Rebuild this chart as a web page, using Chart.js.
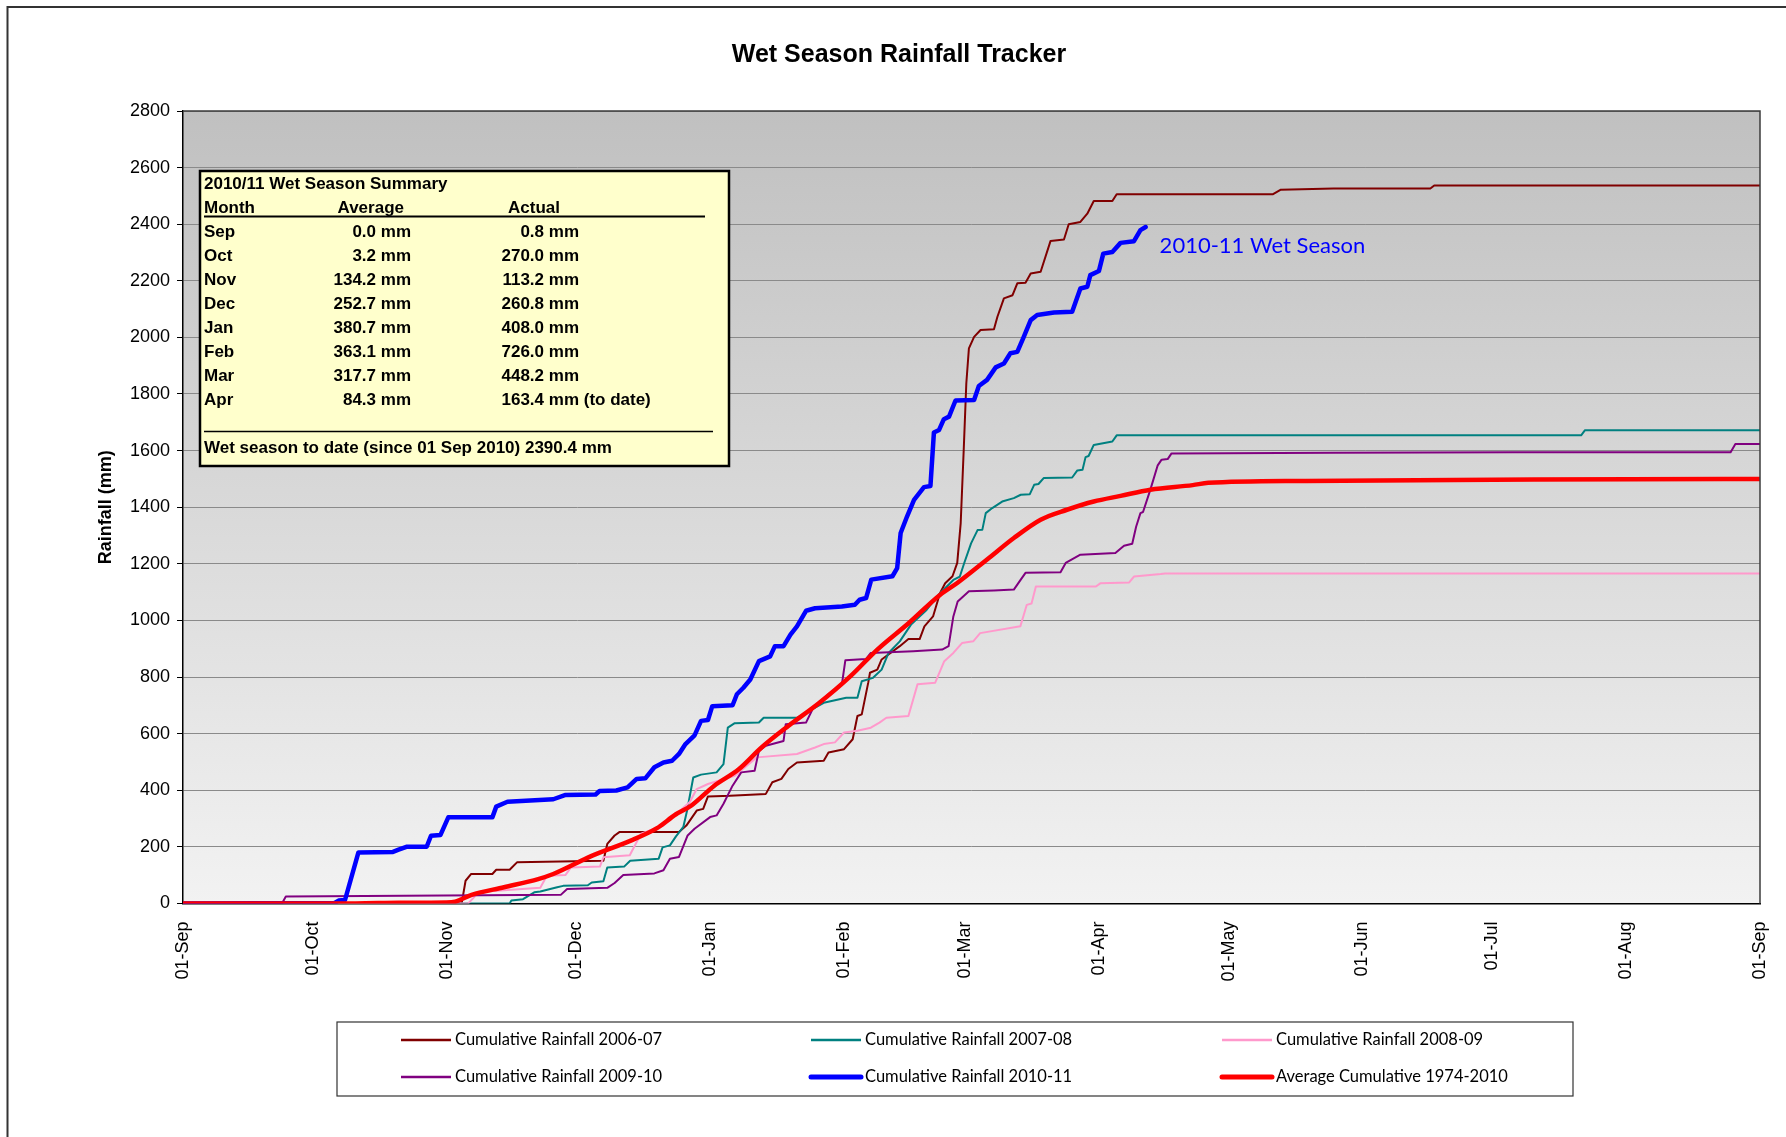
<!DOCTYPE html>
<html>
<head>
<meta charset="utf-8">
<title>Wet Season Rainfall Tracker</title>
<script src="https://cdn.jsdelivr.net/npm/chart.js"></script>
<style>
  html, body { margin: 0; padding: 0; background: #fff; }
  canvas { display: block; }
</style>
</head>
<body>
<canvas id="rainChart" width="1786" height="1137"></canvas>
<script>
// x axis: days since 01 Sep
const monthTickDays = [0, 30, 61, 91, 122, 153, 181, 212, 242, 273, 303, 334, 365];
const monthTickLabels = ["01-Sep", "01-Oct", "01-Nov", "01-Dec", "01-Jan", "01-Feb", "01-Mar",
    "01-Apr", "01-May", "01-Jun", "01-Jul", "01-Aug", "01-Sep"];

const days0607 = [0, 64.5, 65.4, 66.7, 71.6, 72.5, 75.6, 77.3, 97.3, 98.2, 99.9, 101, 114.8, 116.5, 118.9, 120.4,
    121.5, 126.6, 134.9, 136.4, 138.5, 140.1, 142.1, 148.3, 149.4, 153, 155, 156.1, 157.1, 158.6, 159, 160.7,
    161.7, 165.9, 167.9, 170.5, 171.6, 173.6, 175.2, 176.4, 178.1, 179.2, 180, 180.7, 181.3, 181.9, 183.1, 184.6,
    187.7, 188.5, 190, 192, 193.1, 195, 196.2, 198.5, 200.8, 203.9, 205, 207.7, 209.3, 210.8, 215.1, 216.1,
    252.3, 254.1, 266.3, 288.7, 289.6, 365];
const rain0607 = [0, 0, 80, 104, 104, 119, 119, 145, 151, 210, 240, 252, 252, 275, 328, 334,
    378, 380, 387, 428, 440, 475, 498, 504, 533, 545, 580, 662, 668, 780, 815, 826,
    862, 909, 934, 934, 979, 1014, 1096, 1131, 1156, 1203, 1344, 1603, 1838, 1961, 2002, 2026,
    2029, 2073, 2138, 2149, 2191, 2193, 2226, 2232, 2341, 2346, 2400, 2408, 2437, 2482, 2482, 2506,
    2506, 2522, 2526, 2526, 2537, 2537];

const days0708 = [0, 75.6, 76, 78.7, 81.3, 82.7, 86.6, 88, 93.7, 94.6, 97.3, 98.2, 102.1, 103.5, 110.1, 111,
    112.7, 114.1, 115.8, 116.7, 118.1, 119.9, 123.5, 125.1, 126.1, 127.7, 133.3, 134.4, 142.1, 148.3, 153.5,
    156.1, 157.1, 159.7, 161.7, 163.3, 165.9, 168.5, 172.1, 175.2, 178.3, 179.8, 180.8, 182.4, 183.9, 185,
    185.8, 187.3, 189.6, 192.3, 193.9, 196, 197, 198, 199.2, 205.8, 207, 208.2, 208.9, 209.6, 210.8, 215.1,
    216.1, 323.6, 324.5, 365];
const rain0708 = [0, 0, 10, 15, 39, 42, 57, 62, 64, 74, 78, 127, 130, 151, 158, 198,
    205, 237, 270, 330, 445, 455, 463, 492, 621, 637, 639, 656, 656, 709, 727,
    727, 785, 797, 826, 885, 926, 985, 1037, 1096, 1143, 1155, 1202, 1272, 1319, 1320,
    1379, 1397, 1420, 1432, 1444, 1446, 1479, 1482, 1503, 1505, 1530, 1532, 1577, 1581, 1620, 1632,
    1654, 1654, 1672, 1672];

const days0809 = [0, 66, 68.5, 82.7, 84.2, 88.5, 89.8, 96.5, 97.3, 103.4, 106, 111.2, 117.3, 118.9, 121.5,
    127.7, 132.8, 142.1, 146.3, 148.3, 150.9, 153, 156.1, 159.2, 161.2, 162.8, 167.9, 170, 174.1, 176.2,
    178.3, 180.3, 182.9, 184.5, 193.8, 195.3, 196.4, 197.4, 211.3, 212.3, 219, 220.1, 226.3, 227.3, 365];
const rain0809 = [0, 0, 40, 55, 98, 100, 127, 130, 163, 170, 246, 275, 358, 404, 422,
    451, 516, 528, 551, 563, 569, 604, 610, 621, 639, 656, 662, 774, 780, 856,
    885, 920, 926, 955, 979, 1055, 1060, 1120, 1120, 1131, 1134, 1155, 1164, 1166, 1166];

const days0910 = [0, 22.9, 23.8, 87.5, 88.9, 98.2, 99.9, 101.9, 109.1, 111.2, 112.7, 114.8, 116.8, 118.4, 122,
    123.5, 125.1, 127.2, 129.2, 132.3, 133.3, 134.9, 139, 139.5, 144.2, 145.7, 149.4, 152.5, 153.3, 158.1,
    159.2, 169, 175.7, 177.2, 178.3, 179.3, 181.4, 181.9, 187.7, 192.3, 193.9, 195, 203.1, 204.3, 207.7,
    215.8, 217.8, 219.7, 220.6, 221.6, 222.2, 223.9, 225.6, 226.5, 227.9, 228.8, 266.3, 307.8, 358.2, 359.3, 365];
const rain0910 = [0, 0, 24, 31, 51, 55, 72, 100, 106, 117, 158, 164, 240, 264, 305,
    311, 352, 416, 463, 469, 539, 557, 574, 633, 639, 686, 739, 774, 859, 864,
    885, 891, 897, 909, 1014, 1067, 1096, 1103, 1106, 1109, 1144, 1168, 1170, 1203, 1232,
    1238, 1264, 1271, 1331, 1379, 1383, 1462, 1548, 1568, 1570, 1590, 1592, 1594, 1594, 1623, 1623];

const days1011 = [0, 35, 36, 37.5, 40.6, 48.6, 49.9, 51.7, 56.4, 57.4, 59.6, 61.4, 71.6, 72.5, 75.1, 85.7,
    88.4, 95.5, 96.4, 100.3, 102.9, 105, 107, 109.1, 111.2, 113.2, 114.8, 116.3, 118.4, 119.9, 121.5, 122.5,
    127.2, 128.2, 129.7, 131.3, 133.3, 135.9, 137, 139, 140.6, 142.1, 144.2, 146.3, 152.5, 155.5, 156.6,
    158.1, 159.3, 164.2, 165.3, 166.1, 167.6, 169.2, 171.5, 173, 173.8, 175, 176.1, 177.3, 178.8, 183.1,
    184.2, 186.1, 188.1, 190, 191.5, 193.1, 194.6, 196.2, 197.7, 201.6, 205.8, 207.7, 209.3, 210, 212, 213,
    215.1, 217, 220.1, 221.6, 222.8];
const rain1011 = [0, 1, 10, 12, 180, 182, 190, 200, 200, 239, 242, 304, 304, 342, 359, 368,
    383, 385, 397, 399, 410, 440, 442, 481, 498, 504, 528, 563, 594, 645, 648, 697,
    700, 739, 762, 791, 856, 873, 909, 909, 950, 979, 1034, 1043, 1049, 1055, 1073,
    1079, 1144, 1156, 1185, 1309, 1368, 1426, 1471, 1475, 1664, 1673, 1711, 1720, 1777, 1779,
    1828, 1850, 1894, 1908, 1944, 1949, 2002, 2061, 2079, 2088, 2091, 2173, 2179, 2220, 2235, 2296,
    2302, 2334, 2340, 2379, 2390];

const daysAvg = [0, 40, 50, 61, 63, 66.8, 74.3, 82.2, 85.7, 94.6, 103.5, 109.6, 114.1, 117.6, 122.9, 128.7,
    133.9, 140.1, 147.3, 154.5, 160.7, 168, 175.2, 179.2, 186.1, 192.3, 198.5, 204.6, 210.8, 217, 223.9,
    233.7, 237.3, 259.9, 303.3, 356.6, 365];
const rainAvg = [0, 0, 2, 3, 6, 30, 57, 86, 104, 168, 221, 265, 315, 345, 415, 475,
    551, 627, 709, 803, 897, 991, 1090, 1132, 1215, 1291, 1356, 1391, 1420, 1440, 1462,
    1478, 1486, 1493, 1497, 1500, 1500];

// 2010/11 summary panel
const summaryMonths = ["Sep", "Oct", "Nov", "Dec", "Jan", "Feb", "Mar", "Apr"];
const summaryAverage = [0.0, 3.2, 134.2, 252.7, 380.7, 363.1, 317.7, 84.3];
const summaryActual = [0.8, 270.0, 113.2, 260.8, 408.0, 726.0, 448.2, 163.4];
const seasonToDate = 2390.4;

const ARIAL = "'Liberation Sans', Arial, sans-serif";
const CALIBRI = "Lato, 'Open Sans', sans-serif";

function toPoints(days, rain) {
    return days.map((d, i) => ({ x: d, y: rain[i] }));
}

function series(label, days, rain, color, width, order) {
    return {
        label: label,
        data: toPoints(days, rain),
        borderColor: color,
        backgroundColor: color,
        borderWidth: width,
        pointRadius: 0,
        tension: 0,
        fill: false,
        order: order,
        borderCapStyle: "round",
        borderJoinStyle: "round",
    };
}

const decorPlugin = {
    id: "decor",
    beforeDraw(chart) {
        const ctx = chart.ctx;
        const a = chart.chartArea;
        ctx.save();
        // outer frame
        ctx.strokeStyle = "#333";
        ctx.lineWidth = 2;
        ctx.beginPath();
        ctx.moveTo(7.5, chart.height);
        ctx.lineTo(7.5, 7);
        ctx.lineTo(chart.width, 7);
        ctx.stroke();
        // plot gradient
        const g = ctx.createLinearGradient(0, a.top, 0, a.bottom);
        g.addColorStop(0, "#c0c0c0");
        g.addColorStop(1, "#f2f2f2");
        ctx.fillStyle = g;
        ctx.fillRect(a.left, a.top, a.right - a.left, a.bottom - a.top);
        ctx.restore();
    },
    afterDraw(chart) {
        const ctx = chart.ctx;
        const a = chart.chartArea;
        ctx.save();
        // top and right plot border
        ctx.strokeStyle = "#3c3c3c";
        ctx.lineWidth = 1.5;
        ctx.beginPath();
        ctx.moveTo(a.left, a.top);
        ctx.lineTo(a.right, a.top);
        ctx.lineTo(a.right, a.bottom);
        ctx.stroke();

        // season label next to the end of the 2010-11 line
        const blue = chart.data.datasets[4].data;
        const last = blue[blue.length - 1];
        const lx = chart.scales.x.getPixelForValue(last.x);
        const ly = chart.scales.y.getPixelForValue(last.y);
        ctx.fillStyle = "#0000ff";
        ctx.font = "22px " + CALIBRI;
        ctx.textBaseline = "alphabetic";
        ctx.textAlign = "left";
        ctx.fillText("2010-11 Wet Season", lx + 14, ly + 26);

        // summary box
        const bx = 200, by = 171, bw = 529, bh = 295;
        ctx.fillStyle = "#ffffcc";
        ctx.fillRect(bx, by, bw, bh);
        ctx.strokeStyle = "#000";
        ctx.lineWidth = 2.5;
        ctx.strokeRect(bx, by, bw, bh);

        ctx.fillStyle = "#000";
        ctx.font = "bold 17px " + ARIAL;
        const tx = 204;
        ctx.fillText("2010/11 Wet Season Summary", tx, 189);
        ctx.fillText("Month", tx, 212.5);
        ctx.fillText("Average", 337.5, 212.5);
        ctx.fillText("Actual", 508, 212.5);
        ctx.lineWidth = 2;
        ctx.beginPath();
        ctx.moveTo(tx, 216.5);
        ctx.lineTo(705, 216.5);
        ctx.stroke();

        summaryMonths.forEach((m, i) => {
            const y = 236.7 + i * 24;
            ctx.textAlign = "left";
            ctx.fillText(m, tx, y);
            ctx.textAlign = "right";
            ctx.fillText(summaryAverage[i].toFixed(1) + " mm", 411, y);
            ctx.fillText(summaryActual[i].toFixed(1) + " mm", 579, y);
            if (i === summaryMonths.length - 1) {
                ctx.textAlign = "left";
                ctx.fillText(" (to date)", 579, y);
            }
        });
        ctx.textAlign = "left";
        ctx.lineWidth = 1.5;
        ctx.beginPath();
        ctx.moveTo(tx, 431.5);
        ctx.lineTo(713, 431.5);
        ctx.stroke();
        ctx.fillText("Wet season to date (since 01 Sep 2010) " + seasonToDate.toFixed(1) + " mm", tx, 452.7);

        // legend box
        const lgX = 337, lgY = 1022, lgW = 1236, lgH = 74;
        ctx.fillStyle = "#fff";
        ctx.fillRect(lgX, lgY, lgW, lgH);
        ctx.strokeStyle = "#333";
        ctx.lineWidth = 1.2;
        ctx.strokeRect(lgX, lgY, lgW, lgH);
        const colX = [401, 811, 1222];
        const rowY = [1040, 1077];
        ctx.font = "16.5px " + CALIBRI;
        ctx.textBaseline = "middle";
        chart.data.datasets.forEach((ds, i) => {
            const x = colX[i % 3];
            const y = rowY[Math.floor(i / 3)];
            ctx.strokeStyle = ds.borderColor;
            ctx.lineWidth = ds.borderWidth > 3 ? 5 : 2.5;
            ctx.lineCap = ds.borderWidth > 3 ? "round" : "butt";
            ctx.beginPath();
            ctx.moveTo(x, y);
            ctx.lineTo(x + 50, y);
            ctx.stroke();
            ctx.fillStyle = "#000";
            ctx.fillText(ds.label, x + 54, y);
        });
        ctx.restore();
    },
};

// the long-term average is a smooth curve
const avgSeries = series("Average Cumulative 1974-2010", daysAvg, rainAvg, "#ff0000", 4.5, 0);
avgSeries.cubicInterpolationMode = "monotone";

const ctx = document.getElementById("rainChart").getContext("2d");
new Chart(ctx, {
    type: "line",
    data: {
        datasets: [
            series("Cumulative Rainfall 2006-07", days0607, rain0607, "#800000", 2, 5),
            series("Cumulative Rainfall 2007-08", days0708, rain0708, "#008080", 2, 4),
            series("Cumulative Rainfall 2008-09", days0809, rain0809, "#ff99cc", 2, 3),
            series("Cumulative Rainfall 2009-10", days0910, rain0910, "#800080", 2, 2),
            series("Cumulative Rainfall 2010-11", days1011, rain1011, "#0000ff", 4.5, 1),
            avgSeries,
        ],
    },
    options: {
        responsive: false,
        animation: false,
        devicePixelRatio: 1,
        events: [],
        layout: {
            padding: { left: 38, right: 26, top: 0, bottom: 113.6 },
        },
        plugins: {
            legend: { display: false },
            tooltip: { enabled: false },
            title: {
                display: true,
                text: "Wet Season Rainfall Tracker",
                color: "#000",
                font: { family: ARIAL, size: 25, weight: "bold" },
                padding: { top: 40.5, bottom: 40.5 },
            },
        },
        scales: {
            x: {
                type: "linear",
                min: 0,
                max: 365,
                afterBuildTicks: (axis) => {
                    axis.ticks = monthTickDays.map((v) => ({ value: v }));
                },
                afterFit: (scale) => {
                    scale.height = 120;
                    scale.paddingLeft = 0;
                    scale.paddingRight = 0;
                },
                ticks: {
                    autoSkip: false,
                    minRotation: 90,
                    maxRotation: 90,
                    padding: 18,
                    color: "#000",
                    font: { family: ARIAL, size: 18 },
                    callback: (value) => monthTickLabels[monthTickDays.indexOf(value)],
                },
                grid: { display: false, drawTicks: false },
                border: { display: true, color: "#000", width: 1.5 },
            },
            y: {
                min: 0,
                max: 2800,
                afterFit: (scale) => {
                    scale.width = 145;
                    scale.paddingTop = 0;
                    scale.paddingBottom = 0;
                },
                ticks: {
                    stepSize: 200,
                    padding: 7,
                    color: "#000",
                    font: { family: ARIAL, size: 18 },
                    callback: (value) => String(value),
                },
                grid: {
                    color: "#8a8a8a",
                    lineWidth: 1,
                    tickLength: 6,
                    tickColor: "#000",
                },
                border: { display: true, color: "#000", width: 1.5 },
                title: {
                    display: true,
                    text: "Rainfall (mm)",
                    color: "#000",
                    font: { family: ARIAL, size: 18, weight: "bold" },
                    padding: { top: 57, bottom: 0 },
                },
            },
        },
    },
    plugins: [decorPlugin],
});
</script>
</body>
</html>
